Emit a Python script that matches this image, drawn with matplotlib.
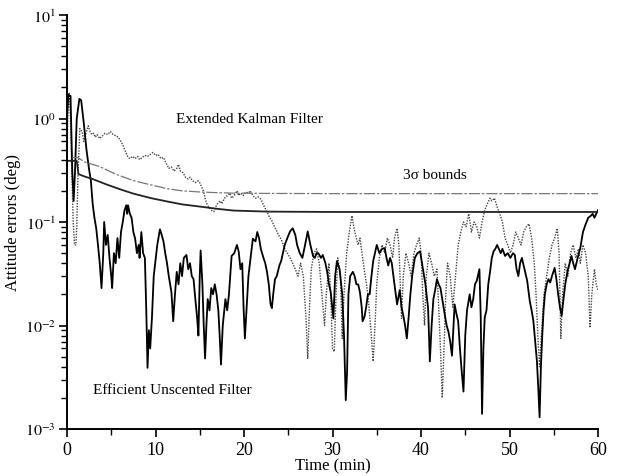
import matplotlib
matplotlib.use("Agg")
import matplotlib.pyplot as plt
from matplotlib.ticker import LogLocator, MultipleLocator, NullFormatter, FixedLocator
import numpy as np

plt.rcParams['font.family'] = ['Liberation Serif', 'DejaVu Serif']
plt.rcParams['mathtext.fontset'] = 'stix'

# ---------------- data ----------------
# Efficient Unscented Filter attitude error (solid)
euf_t = [0.0, 0.15, 0.4, 0.6, 0.75, 0.9, 1.1, 1.4, 1.6, 1.9, 2.2, 2.5, 2.7, 2.9, 3.1, 3.3, 3.5, 3.7, 3.9,
         4.1, 4.2, 4.4, 4.6, 4.8, 5.0, 5.1, 5.3, 5.5, 5.7, 5.9, 6.1, 6.3, 6.5, 6.7, 6.8, 6.9, 7.1, 7.3, 7.5,
         7.7, 7.9, 8.1, 8.2, 8.4, 8.6, 8.8, 8.95, 9.1, 9.25, 9.4, 9.6, 9.8, 10.0, 10.2, 10.5, 10.7, 10.9,
         11.1, 11.3, 11.5, 11.8, 12.0, 12.2, 12.4, 12.6, 12.8, 13.0, 13.2, 13.5, 13.7, 13.9, 14.1, 14.3,
         14.5, 14.7, 14.85, 15.0, 15.1, 15.3, 15.45, 15.6, 15.75, 15.9, 16.1, 16.3, 16.5, 16.7, 16.9, 17.1,
         17.25, 17.4, 17.6, 17.9, 18.1, 18.3, 18.6, 18.9, 19.2, 19.4, 19.6, 19.8, 19.95, 20.1, 20.3, 20.5,
         20.8, 21.0, 21.3, 21.5, 21.7, 21.9, 22.2, 22.4, 22.6, 22.8, 23.0, 23.15, 23.3, 23.5, 23.7, 24.0,
         24.2, 24.4, 24.6, 24.9, 25.2, 25.5, 25.8, 26.0, 26.3, 26.6, 26.9, 27.2, 27.5, 27.8, 28.0, 28.2,
         28.4, 28.7, 28.9, 29.2, 29.4, 29.6, 29.8, 30.1, 30.3, 30.5, 30.8, 31.1, 31.3, 31.5, 31.65, 31.8,
         32.0, 32.3, 32.5, 32.7, 32.9, 33.1, 33.3, 33.4, 33.6, 33.8, 34.0, 34.2, 34.4, 34.6, 34.8, 35.0,
         35.3, 35.6, 35.9, 36.1, 36.3, 36.5, 36.7, 37.0, 37.3, 37.6, 37.8, 38.0, 38.2, 38.4, 38.6, 38.8,
         39.0, 39.3, 39.6, 39.9, 40.2, 40.5, 40.8, 41.0, 41.2, 41.4, 41.6, 41.8, 42.0, 42.2, 42.4, 42.7,
         42.9, 43.1, 43.3, 43.5, 43.65, 43.8, 44.0, 44.2, 44.4, 44.6, 44.8, 45.0, 45.2, 45.5, 45.7, 45.9,
         46.1, 46.3, 46.6, 46.75, 46.9, 47.05, 47.2, 47.4, 47.6, 47.8, 48.0, 48.2, 48.4, 48.6, 48.8, 49.0,
         49.2, 49.5, 49.8, 50.1, 50.4, 50.6, 50.8, 51.0, 51.2, 51.4, 51.7, 52.0, 52.3, 52.5, 52.7, 52.9,
         53.1, 53.25, 53.4, 53.55, 53.7, 53.85, 54.0, 54.2, 54.4, 54.6, 54.8, 55.1, 55.3, 55.5, 55.7, 55.9,
         56.1, 56.3, 56.6, 56.8, 57.0, 57.2, 57.4, 57.7, 58.0, 58.3, 58.6, 58.9, 59.2, 59.4, 59.6, 59.8, 60.0]
euf_err = [1.0, 1.7, 1.65, 0.3, 0.16, 0.3, 1.0, 1.55, 1.5, 0.9, 0.5, 0.32, 0.25, 0.15, 0.11, 0.087, 0.06, 0.04, 0.023,
           0.05, 0.1, 0.06, 0.075, 0.045, 0.03, 0.023, 0.05, 0.04, 0.07, 0.045, 0.08, 0.1, 0.13, 0.145, 0.12, 0.145, 0.12, 0.11, 0.08,
           0.069, 0.05, 0.06, 0.045, 0.08, 0.05, 0.045, 0.015, 0.0039, 0.009, 0.006, 0.012, 0.03, 0.042, 0.06, 0.085, 0.075, 0.065,
           0.05, 0.04, 0.03, 0.021, 0.011, 0.02, 0.033, 0.025, 0.04, 0.03, 0.045, 0.048, 0.035, 0.04, 0.03, 0.028,
           0.018, 0.012, 0.008, 0.03, 0.053, 0.025, 0.01, 0.0048, 0.01, 0.018, 0.014, 0.023, 0.02, 0.025, 0.02, 0.014,
           0.008, 0.0042, 0.01, 0.018, 0.014, 0.02, 0.047, 0.05, 0.06, 0.052, 0.035, 0.04, 0.015, 0.0075, 0.015, 0.03,
           0.05, 0.069, 0.065, 0.08, 0.07, 0.055, 0.045, 0.04, 0.033, 0.025, 0.016, 0.0147, 0.02, 0.028, 0.03, 0.038,
           0.042, 0.05, 0.06, 0.07, 0.081, 0.087, 0.075, 0.06, 0.05, 0.045, 0.06, 0.081, 0.06, 0.047, 0.045, 0.05,
           0.05, 0.045, 0.048, 0.04, 0.033, 0.025, 0.021, 0.0117, 0.03, 0.042, 0.035, 0.02, 0.008, 0.0019, 0.0036, 0.02,
           0.03, 0.033, 0.03, 0.025, 0.025, 0.021, 0.015, 0.011, 0.012, 0.015, 0.02, 0.02, 0.03, 0.042, 0.05, 0.06,
           0.05, 0.055, 0.056, 0.045, 0.038, 0.045, 0.04, 0.025, 0.016, 0.022, 0.015, 0.0125, 0.01, 0.0075, 0.012, 0.02,
           0.03, 0.045, 0.05, 0.052, 0.036, 0.025, 0.0147, 0.0045, 0.01, 0.018, 0.022, 0.028, 0.025, 0.023, 0.018, 0.0125,
           0.01, 0.0087, 0.007, 0.0051, 0.009, 0.016, 0.013, 0.011, 0.006, 0.0036, 0.0023, 0.008, 0.014, 0.02, 0.015, 0.018,
           0.025, 0.027, 0.035, 0.012, 0.0014, 0.006, 0.012, 0.014, 0.025, 0.033, 0.045, 0.052, 0.055, 0.06, 0.055, 0.05,
           0.055, 0.047, 0.05, 0.045, 0.05, 0.048, 0.035, 0.03, 0.04, 0.045, 0.035, 0.027, 0.017, 0.014, 0.011, 0.007,
           0.0045, 0.0025, 0.0013, 0.004, 0.008, 0.014, 0.02, 0.025, 0.028, 0.026, 0.03, 0.036, 0.028, 0.02, 0.015, 0.0125,
           0.018, 0.025, 0.035, 0.04, 0.047, 0.04, 0.035, 0.045, 0.056, 0.08, 0.095, 0.11, 0.115, 0.12, 0.11, 0.12, 0.13]

# Extended Kalman Filter attitude error (dotted)
ekf_t = [0.0, 0.1, 0.25, 0.4, 0.55, 0.7, 0.85, 1.0, 1.1, 1.25, 1.45, 1.7, 1.9, 2.1, 2.4, 2.6, 2.8, 3.0, 3.2, 3.4,
         3.7, 4.0, 4.3, 4.6, 4.9, 5.2, 5.5, 5.8, 6.0, 6.3, 6.6, 6.9, 7.1, 7.4, 7.7, 8.0, 8.2, 8.5, 8.8, 9.1,
         9.4, 9.7, 10.0, 10.3, 10.6, 10.9, 11.2, 11.5, 11.8, 12.1, 12.4, 12.6, 12.8, 13.1, 13.4, 13.7, 13.9,
         14.2, 14.5, 14.8, 15.0, 15.2, 15.4, 15.6, 15.8, 16.0, 16.2, 16.4, 16.6, 16.8, 17.0, 17.3, 17.5, 17.8,
         18.1, 18.4, 18.6, 18.9, 19.2, 19.4, 19.6, 19.9, 20.2, 20.5, 20.7, 21.0, 21.3, 21.6, 21.8, 22.0, 22.3,
         22.6, 22.9, 23.1, 23.3, 23.6, 23.9, 24.1, 24.3, 24.6, 24.9, 25.2, 25.5, 25.8, 26.1, 26.4, 26.7, 27.0,
         27.2, 27.4, 27.6, 27.9, 28.2, 28.5, 28.8, 29.1, 29.3, 29.6, 29.8, 30.0, 30.2, 30.4, 30.6, 30.9, 31.1,
         31.3, 31.6, 31.9, 32.2, 32.4, 32.6, 32.9, 33.1, 33.4, 33.7, 34.0, 34.3, 34.6, 34.8, 35.0, 35.3, 35.6,
         35.9, 36.2, 36.5, 36.8, 37.0, 37.3, 37.5, 37.7, 37.8, 38.0, 38.3, 38.6, 38.9, 39.2, 39.5, 39.8, 40.0,
         40.2, 40.4, 40.6, 40.9, 41.2, 41.5, 41.8, 42.0, 42.2, 42.4, 42.6, 42.8, 43.0, 43.3, 43.6, 43.9, 44.2,
         44.5, 44.8, 45.1, 45.4, 45.7, 46.0, 46.3, 46.6, 46.9, 47.2, 47.5, 47.8, 48.0, 48.3, 48.6, 48.9, 49.2,
         49.5, 49.8, 50.1, 50.4, 50.7, 51.0, 51.3, 51.6, 51.9, 52.2, 52.5, 52.8, 53.0, 53.2, 53.4, 53.6, 53.9,
         54.2, 54.5, 54.8, 55.1, 55.4, 55.6, 55.8, 56.0, 56.3, 56.6, 56.9, 57.2, 57.5, 57.8, 58.0, 58.3, 58.6,
         58.9, 59.1, 59.3, 59.6, 59.8, 60.0]
ekf_err = [0.5, 1.2, 1.75, 1.0, 0.3, 0.1, 0.06, 0.06, 0.09, 0.3, 0.8, 0.75, 0.6, 0.7, 0.85, 0.75, 0.7, 0.72, 0.66, 0.7,
           0.64, 0.68, 0.72, 0.7, 0.75, 0.7, 0.68, 0.66, 0.62, 0.56, 0.48, 0.42, 0.41, 0.43, 0.41, 0.43, 0.4, 0.42, 0.44, 0.43,
           0.45, 0.47, 0.44, 0.45, 0.41, 0.42, 0.37, 0.33, 0.34, 0.31, 0.33, 0.36, 0.31, 0.3, 0.27, 0.26, 0.27,
           0.25, 0.24, 0.25, 0.24, 0.22, 0.2, 0.17, 0.15, 0.14, 0.134, 0.128, 0.126, 0.14, 0.15, 0.16, 0.15, 0.17,
           0.18, 0.19, 0.17, 0.18, 0.2, 0.18, 0.19, 0.18, 0.195, 0.19, 0.2, 0.18, 0.17, 0.175, 0.17, 0.16, 0.14,
           0.126, 0.11, 0.105, 0.096, 0.085, 0.075, 0.07, 0.065, 0.055, 0.05, 0.045, 0.04, 0.035, 0.03, 0.04, 0.03, 0.012,
           0.0048, 0.015, 0.035, 0.05, 0.055, 0.04, 0.02, 0.01, 0.02, 0.04, 0.02, 0.006, 0.0056, 0.02, 0.045, 0.03, 0.0075,
           0.02, 0.05, 0.08, 0.115, 0.09, 0.075, 0.06, 0.07, 0.045, 0.03, 0.02, 0.01, 0.0045, 0.01, 0.025, 0.045, 0.06,
           0.05, 0.07, 0.06, 0.045, 0.07, 0.087, 0.06, 0.02, 0.0117, 0.03, 0.05, 0.04, 0.03, 0.05, 0.06, 0.07, 0.05,
           0.02, 0.01, 0.03, 0.05, 0.04, 0.03, 0.035, 0.015, 0.006, 0.002, 0.006, 0.02, 0.04, 0.03, 0.015, 0.03, 0.06,
           0.08, 0.1, 0.09, 0.12, 0.08, 0.1, 0.09, 0.07, 0.1, 0.13, 0.15, 0.17, 0.16, 0.17, 0.14, 0.12, 0.1,
           0.07, 0.06, 0.05, 0.06, 0.08, 0.07, 0.06, 0.08, 0.09, 0.096, 0.07, 0.04, 0.02, 0.008, 0.004, 0.008, 0.02,
           0.03, 0.045, 0.06, 0.07, 0.087, 0.05, 0.0075, 0.02, 0.04, 0.03, 0.05, 0.06, 0.045, 0.055, 0.04, 0.06, 0.05,
           0.03, 0.0095, 0.02, 0.035, 0.025, 0.022]

# 3-sigma bounds
ekf_bound_t = [0.6, 1.2, 2.0, 3.7, 5.5, 7.5, 9.5, 11.3, 13.0, 15.0, 17.0, 18.8, 22.0, 30.0, 40.0, 50.0, 60.0]
ekf_bound = [0.42, 0.42, 0.38, 0.343, 0.29, 0.251, 0.228, 0.21, 0.2, 0.195, 0.192, 0.19, 0.189, 0.188, 0.188, 0.188, 0.188]
euf_bound_t = [0.0, 1.1, 1.3, 2.0, 2.9, 4.5, 6.0, 7.5, 9.5, 11.3, 13.0, 15.0, 17.0, 18.8, 22.6, 30.0, 40.0, 50.0, 60.0]
euf_bound = [0.39, 0.39, 0.29, 0.275, 0.26, 0.23, 0.207, 0.188, 0.17, 0.158, 0.148, 0.141, 0.134, 0.129, 0.126, 0.125, 0.125, 0.125, 0.125]

x_ticks = [0, 10, 20, 30, 40, 50, 60]
y_ticks = [1e-3, 1e-2, 1e-1, 1e0, 1e1]
y_tick_labels = [r'$10^{-3}$', r'$10^{-2}$', r'$10^{-1}$', r'$10^{0}$', r'$10^{1}$']

# ---------------- figure ----------------
fig = plt.figure(figsize=(6.17, 4.77), dpi=100)
ax = fig.add_axes([67 / 617, 47 / 477, 531 / 617, 414 / 477])

ax.plot(ekf_t, ekf_err, color='#444444', lw=1.0, linestyle=(0, (1, 1)))
ax.plot(euf_t, euf_err, color='black', lw=1.3)
ax.plot(ekf_bound_t, ekf_bound, color='#777777', lw=0.9, linestyle=(0, (9, 1.5, 2, 1.5)))
ax.plot(euf_bound_t, euf_bound, color='#222222', lw=1.3)

ax.set_yscale('log')
ax.set_xlim(0, 60)
ax.set_ylim(1e-3, 10)

for s in ('top', 'right'):
    ax.spines[s].set_visible(False)
for s in ('left', 'bottom'):
    ax.spines[s].set_linewidth(1.4)

ax.set_xticks(x_ticks)
ax.set_xticklabels([str(v) for v in x_ticks])
ax.xaxis.set_minor_locator(MultipleLocator(5))
ax.yaxis.set_major_locator(FixedLocator(y_ticks))
ax.set_yticklabels(y_tick_labels)
ax.yaxis.set_minor_locator(LogLocator(base=10, subs=np.arange(2, 10)))
ax.yaxis.set_minor_formatter(NullFormatter())

ax.tick_params(axis='both', which='major', direction='out', length=6, width=1.2)
ax.tick_params(axis='x', which='major', pad=3, labelsize=13)
ax.tick_params(axis='y', which='major', pad=2, labelsize=11.5)
ax.tick_params(axis='both', which='minor', direction='out', length=4, width=1.0)

ax.set_xlabel('Time (min)', fontsize=12, labelpad=-1)
ax.set_ylabel('Attitude errors (deg)', fontsize=12)
ax.yaxis.set_label_coords(-0.086, 0.5)

ax.text(12.3, 1.0, 'Extended Kalman Filter', fontsize=11, ha='left', va='center')
ax.text(38.0, 0.29, '3σ bounds', fontsize=11, ha='left', va='center')
ax.text(2.9, 0.0024, 'Efficient Unscented Filter', fontsize=11, ha='left', va='center')

fig.savefig('out.png', dpi=100)
